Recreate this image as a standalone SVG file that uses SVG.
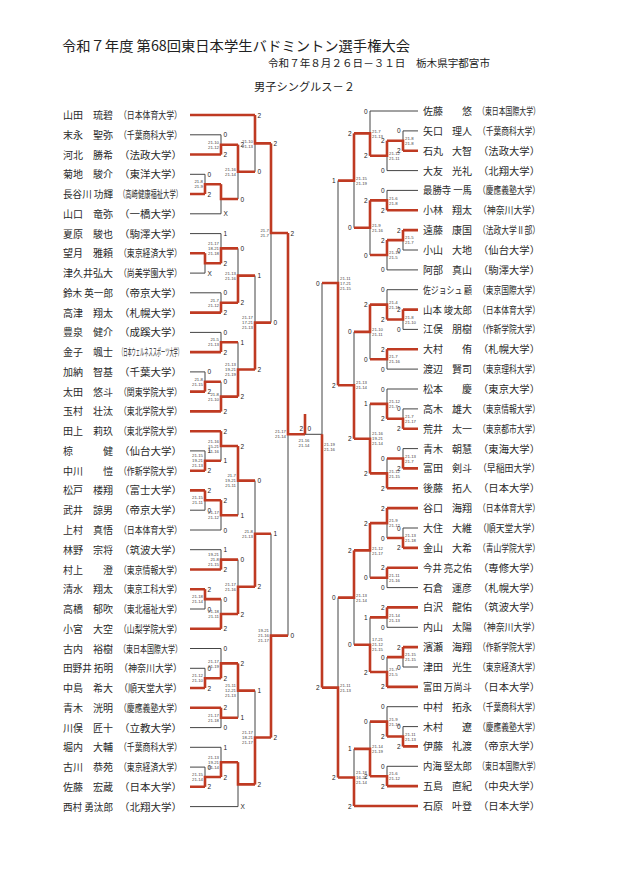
<svg xmlns="http://www.w3.org/2000/svg" width="620" height="877" viewBox="0 0 620 877">
<style>
.t{stroke:#444;stroke-width:1;fill:none}
.r{stroke:#bf3a22;stroke-width:2.6;fill:none;stroke-linejoin:miter}
.nm{font-family:"Noto Sans CJK JP",sans-serif;font-size:10px;fill:#2a2a2a}
.e{text-anchor:end}
.lb{font-family:"Liberation Sans",sans-serif;font-size:6.5px;fill:#222}
.sc{font-family:"Liberation Sans",sans-serif;font-size:4.3px;fill:#444}
.hd{font-family:"Noto Sans CJK JP",sans-serif;fill:#222}
</style>
<rect width="620" height="877" fill="#fff"/>
<g id="header">
<text class="hd" x="62" y="51" font-size="14" textLength="348" lengthAdjust="spacingAndGlyphs">令和７年度 第68回東日本学生バドミントン選手権大会</text>
<text class="hd" x="268" y="67" font-size="10" textLength="222" lengthAdjust="spacingAndGlyphs">令和７年８月２６日－３１日　栃木県宇都宮市</text>
<text class="hd" x="254" y="91" font-size="11" textLength="101" lengthAdjust="spacingAndGlyphs">男子シングルス－２</text>
</g>
<g id="connectors">
<path class="t" d="M190 134.8H221M190 174.3H205M190 213.8H221M190 233.6H221M190 273.1H205M190 292.8H221M190 332.4H221M190 371.9H205M190 450.9H205M190 510.2H205M190 530H221M190 549.7H221M190 609H205M190 648.5H221M190 668.3H205M190 727.6H221M190 747.3H221M190 767.1H205M190 806.6H238"/>
<path class="t" d="M205 174.3V194M221 134.8V154.5M221 184.2V213.8M238 144.7V199M255 115V171.8M205 253.3V273.1M221 233.6V263.2M221 292.8V312.6M238 248.4V302.7M221 332.4V352.1M205 371.9V391.6M221 381.8V411.4M238 342.3V396.6M255 275.6V369.5M271 143.4V322.6M205 450.9V470.7M221 431.2V460.8M205 490.4V510.2M221 500.3V530M238 446V515.2M221 549.7V569.5M205 589.2V609M221 599.1V628.8M238 559.6V614M255 480.6V586.8M205 668.3V688M221 648.5V678.2M221 707.8V727.6M238 663.4V717.7M205 767.1V786.8M221 747.3V777M238 762.2V806.6M255 690.6V784.4M271 533.7V737.5M288 233V635.6"/>
<path class="r" d="M190 115H255M190 154.5H221M190 194H205M190 253.3H205M190 312.6H221M190 352.1H221M190 391.6H205M190 411.4H221M190 431.2H221M190 470.7H205M190 490.4H205M190 569.5H221M190 589.2H205M190 628.8H221M190 688H205M190 707.8H221M190 786.8H205"/>
<path class="r" d="M205 194V184.2H221M221 154.5V144.7H238M221 184.2V199H238M238 144.7V171.8H255M255 115V143.4H271M205 253.3V263.2H221M221 263.2V248.4H238M221 312.6V302.7H238M238 302.7V275.6H255M221 352.1V342.3H238M205 391.6V381.8H221M221 411.4V396.6H238M238 396.6V369.5H255M255 369.5V322.6H271M271 143.4V233H288M205 470.7V460.8H221M221 431.2V446H238M205 490.4V500.3H221M221 500.3V515.2H238M238 446V480.6H255M221 569.5V559.6H238M205 589.2V599.1H221M221 628.8V614H238M238 614V586.8H255M255 586.8V533.7H271M205 688V678.2H221M221 678.2V663.4H238M221 707.8V717.7H238M238 663.4V690.6H255M205 786.8V777H221M221 777V762.2H238M238 762.2V784.4H255M255 784.4V737.5H271M271 737.5V635.6H288M288 233V434.3H305"/>
<path class="r" d="M305 434.3V414"/>
<path class="t" d="M305 434.3H322"/>
<path class="t" d="M418 111H370M418 130.9H403M418 170.6H387M418 190.4H387M418 250H403M418 269.9H387M418 289.7H387M418 329.4H403M418 369.1H387M418 389H387M418 408.9H403M418 448.6H403M418 528H403M418 587.6H387M418 627.3H387M418 667H403M418 706.7H387M418 726.6H403M418 766.3H387"/>
<path class="t" d="M403 130.9V150.7M387 140.8V170.6M370 111V155.7M387 190.4V210.3M403 230.1V250M387 240.1V269.9M370 200.4V255M354 133.4V227.7M403 309.6V329.4M387 289.7V319.5M387 349.3V369.1M370 304.6V359.2M403 408.9V428.7M387 389V418.8M403 448.6V468.4M387 458.5V488.3M370 403.9V473.4M354 331.9V438.7M338 180.6V385.3M403 528V547.9M387 508.1V538M387 567.7V587.6M370 523.1V577.7M387 607.4V627.3M403 647.1V667M387 657.1V686.9M370 617.4V672M354 550.4V644.7M403 726.6V746.4M387 706.7V736.5M387 766.3V786.1M370 721.6V776.2M354 748.9V806M338 597.6V777.5M322 283V687.6"/>
<path class="r" d="M418 150.7H403M418 210.3H387M418 230.1H403M418 309.6H403M418 349.3H387M418 428.7H403M418 468.4H403M418 488.3H387M418 508.1H387M418 547.9H403M418 567.7H387M418 607.4H387M418 647.1H403M418 686.9H387M418 746.4H403M418 786.1H387M418 806H354"/>
<path class="r" d="M403 150.7V140.8H387M387 140.8V155.7H370M370 155.7V133.4H354M387 210.3V200.4H370M403 230.1V240.1H387M387 240.1V255H370M370 200.4V227.7H354M354 133.4V180.6H338M403 309.6V319.5H387M387 319.5V304.6H370M387 349.3V359.2H370M370 304.6V331.9H354M403 428.7V418.8H387M387 418.8V403.9H370M403 468.4V458.5H387M387 488.3V473.4H370M370 473.4V438.7H354M354 438.7V385.3H338M338 385.3V283H322M403 547.9V538H387M387 508.1V523.1H370M387 567.7V577.7H370M370 523.1V550.4H354M387 607.4V617.4H370M403 647.1V657.1H387M387 686.9V672H370M370 672V644.7H354M354 550.4V597.6H338M403 746.4V736.5H387M387 736.5V721.6H370M387 786.1V776.2H370M370 776.2V748.9H354M354 806V777.5H338M338 777.5V687.6H322M322 687.6V434.3"/>
</g>
<g id="results">
<g class="lb">
<text x="207.5" y="176.8">0</text><text x="207.5" y="196.5">2</text>
<text x="223.5" y="137.3">0</text><text x="223.5" y="157">2</text>
<text x="223.5" y="216.3">X</text>
<text x="240.5" y="147.2">2</text><text x="240.5" y="201.5">0</text>
<text x="257.5" y="117.5">2</text><text x="257.5" y="174.3">0</text>
<text x="207.5" y="275.6">X</text>
<text x="223.5" y="236.1">1</text><text x="223.5" y="265.7">2</text>
<text x="223.5" y="295.3">0</text><text x="223.5" y="315.1">2</text>
<text x="240.5" y="250.9">0</text><text x="240.5" y="305.2">2</text>
<text x="223.5" y="334.9">0</text><text x="223.5" y="354.6">2</text>
<text x="207.5" y="374.4">0</text><text x="207.5" y="394.1">2</text>
<text x="223.5" y="384.3">0</text><text x="223.5" y="413.9">2</text>
<text x="240.5" y="344.8">1</text><text x="240.5" y="399.1">2</text>
<text x="257.5" y="278.1">1</text><text x="257.5" y="372">2</text>
<text x="273.5" y="145.9">2</text><text x="273.5" y="325.1">0</text>
<text x="207.5" y="453.4">1</text><text x="207.5" y="473.2">2</text>
<text x="223.5" y="433.7">2</text><text x="223.5" y="463.3">1</text>
<text x="207.5" y="492.9">2</text><text x="207.5" y="512.7">0</text>
<text x="223.5" y="502.8">2</text><text x="223.5" y="532.5">0</text>
<text x="240.5" y="448.5">2</text><text x="240.5" y="517.7">1</text>
<text x="223.5" y="552.2">1</text><text x="223.5" y="572">2</text>
<text x="207.5" y="591.7">2</text><text x="207.5" y="611.5">0</text>
<text x="223.5" y="601.6">0</text><text x="223.5" y="631.3">2</text>
<text x="240.5" y="562.1">0</text><text x="240.5" y="616.5">2</text>
<text x="257.5" y="483.1">0</text><text x="257.5" y="589.3">2</text>
<text x="207.5" y="670.8">0</text><text x="207.5" y="690.5">2</text>
<text x="223.5" y="651">0</text><text x="223.5" y="680.7">2</text>
<text x="223.5" y="710.3">2</text><text x="223.5" y="730.1">0</text>
<text x="240.5" y="665.9">2</text><text x="240.5" y="720.2">1</text>
<text x="207.5" y="769.6">0</text><text x="207.5" y="789.3">2</text>
<text x="223.5" y="749.8">1</text><text x="223.5" y="779.5">2</text>
<text x="240.5" y="809.1">X</text>
<text x="257.5" y="693.1">1</text><text x="257.5" y="786.9">2</text>
<text x="273.5" y="536.2">1</text><text x="273.5" y="740">2</text>
<text x="290.5" y="235.5">2</text><text x="290.5" y="638.1">0</text>
<text x="303" y="431" text-anchor="end">2</text><text x="307.5" y="431">0</text>
</g>
<g class="lb" text-anchor="end">
<text x="400.5" y="133.4">0</text><text x="400.5" y="153.2">2</text>
<text x="384.5" y="143.3">2</text><text x="384.5" y="173.1">0</text>
<text x="367.5" y="113.5">0</text><text x="367.5" y="158.2">2</text>
<text x="384.5" y="192.9">0</text><text x="384.5" y="212.8">2</text>
<text x="400.5" y="232.6">2</text><text x="400.5" y="252.5">0</text>
<text x="384.5" y="242.6">2</text><text x="384.5" y="272.4">0</text>
<text x="367.5" y="202.9">2</text><text x="367.5" y="257.5">0</text>
<text x="351.5" y="135.9">2</text><text x="351.5" y="230.2">0</text>
<text x="400.5" y="312.1">2</text><text x="400.5" y="331.9">0</text>
<text x="384.5" y="292.2">0</text><text x="384.5" y="322">2</text>
<text x="384.5" y="351.8">2</text><text x="384.5" y="371.6">0</text>
<text x="367.5" y="307.1">2</text><text x="367.5" y="361.7">0</text>
<text x="400.5" y="411.4">0</text><text x="400.5" y="431.2">2</text>
<text x="384.5" y="391.5">0</text><text x="384.5" y="421.3">2</text>
<text x="400.5" y="451.1">0</text><text x="400.5" y="470.9">2</text>
<text x="384.5" y="461">0</text><text x="384.5" y="490.8">2</text>
<text x="367.5" y="406.4">1</text><text x="367.5" y="475.9">2</text>
<text x="351.5" y="334.4">0</text><text x="351.5" y="441.2">2</text>
<text x="335.5" y="183.1">1</text><text x="335.5" y="387.8">2</text>
<text x="400.5" y="530.5">0</text><text x="400.5" y="550.4">2</text>
<text x="384.5" y="510.6">2</text><text x="384.5" y="540.5">0</text>
<text x="384.5" y="570.2">2</text><text x="384.5" y="590.1">0</text>
<text x="367.5" y="525.6">2</text><text x="367.5" y="580.2">0</text>
<text x="384.5" y="609.9">2</text><text x="384.5" y="629.8">0</text>
<text x="400.5" y="649.6">2</text><text x="400.5" y="669.5">0</text>
<text x="384.5" y="659.6">0</text><text x="384.5" y="689.4">2</text>
<text x="367.5" y="619.9">1</text><text x="367.5" y="674.5">2</text>
<text x="351.5" y="552.9">2</text><text x="351.5" y="647.2">0</text>
<text x="400.5" y="729.1">0</text><text x="400.5" y="748.9">2</text>
<text x="384.5" y="709.2">0</text><text x="384.5" y="739">2</text>
<text x="384.5" y="768.8">0</text><text x="384.5" y="788.6">2</text>
<text x="367.5" y="724.1">0</text><text x="367.5" y="778.7">2</text>
<text x="351.5" y="751.4">1</text><text x="351.5" y="808.5">2</text>
<text x="335.5" y="600.1">0</text><text x="335.5" y="780">2</text>
<text x="319.5" y="285.5">0</text><text x="319.5" y="690.1">2</text>
</g>
</g>
<g id="scores" class="sc">
<g text-anchor="end">
<text x="203" y="183.3">21-8<tspan x="203" dy="5">21-9</tspan></text>
<text x="219" y="143.8">21-10<tspan x="219" dy="5">21-12</tspan></text>
<text x="236" y="170.9">21-16<tspan x="236" dy="5">21-14</tspan></text>
<text x="253" y="142.5">21-10<tspan x="253" dy="5">21-13</tspan></text>
<text x="219" y="245">21-17<tspan x="219" dy="5">18-21</tspan><tspan x="219" dy="5">21-18</tspan></text>
<text x="219" y="301.8">21-7<tspan x="219" dy="5">21-12</tspan></text>
<text x="236" y="274.7">21-13<tspan x="236" dy="5">21-16</tspan></text>
<text x="219" y="341.4">21-5<tspan x="219" dy="5">21-13</tspan></text>
<text x="203" y="380.9">21-8<tspan x="203" dy="5">21-15</tspan></text>
<text x="219" y="395.7">21-8<tspan x="219" dy="5">21-10</tspan></text>
<text x="236" y="366.1">21-13<tspan x="236" dy="5">19-21</tspan><tspan x="236" dy="5">21-19</tspan></text>
<text x="253" y="319.2">21-17<tspan x="253" dy="5">17-21</tspan><tspan x="253" dy="5">21-13</tspan></text>
<text x="269" y="232.1">21-7<tspan x="269" dy="5">21-7</tspan></text>
<text x="203" y="457.4">21-15<tspan x="203" dy="5">19-21</tspan><tspan x="203" dy="5">21-13</tspan></text>
<text x="219" y="442.6">21-16<tspan x="219" dy="5">15-21</tspan><tspan x="219" dy="5">21-16</tspan></text>
<text x="203" y="499.4">21-15<tspan x="203" dy="5">21-11</tspan></text>
<text x="219" y="514.3">21-17<tspan x="219" dy="5">21-12</tspan></text>
<text x="236" y="477.2">21-7<tspan x="236" dy="5">19-21</tspan><tspan x="236" dy="5">21-11</tspan></text>
<text x="219" y="556.2">19-21<tspan x="219" dy="5">21-8</tspan><tspan x="219" dy="5">21-15</tspan></text>
<text x="203" y="598.2">21-18<tspan x="203" dy="5">21-14</tspan></text>
<text x="219" y="613.1">21-18<tspan x="219" dy="5">21-11</tspan></text>
<text x="236" y="585.9">21-17<tspan x="236" dy="5">21-16</tspan></text>
<text x="253" y="532.8">21-8<tspan x="253" dy="5">21-13</tspan></text>
<text x="203" y="677.3">21-12<tspan x="203" dy="5">21-10</tspan></text>
<text x="219" y="662.5">21-17<tspan x="219" dy="5">21-19</tspan></text>
<text x="219" y="716.8">21-17<tspan x="219" dy="5">21-18</tspan></text>
<text x="236" y="687.2">21-11<tspan x="236" dy="5">12-21</tspan><tspan x="236" dy="5">21-13</tspan></text>
<text x="203" y="776.1">21-15<tspan x="203" dy="5">21-14</tspan></text>
<text x="219" y="758.8">21-13<tspan x="219" dy="5">19-21</tspan><tspan x="219" dy="5">21-14</tspan></text>
<text x="253" y="734.1">21-17<tspan x="253" dy="5">18-21</tspan><tspan x="253" dy="5">21-17</tspan></text>
<text x="269" y="632.2">19-21<tspan x="269" dy="5">21-16</tspan><tspan x="269" dy="5">21-17</tspan></text>
<text x="286" y="433.4">21-17<tspan x="286" dy="5">21-14</tspan></text>
</g>
<text x="304" y="441.5" text-anchor="middle">21-16<tspan x="304" dy="5">21-14</tspan></text>
<text x="405" y="139.9">21-8<tspan x="405" dy="5">21-8</tspan></text>
<text x="389" y="154.8">21-12<tspan x="389" dy="5">21-11</tspan></text>
<text x="372" y="132.5">21-7<tspan x="372" dy="5">21-13</tspan></text>
<text x="389" y="199.5">21-6<tspan x="389" dy="5">21-8</tspan></text>
<text x="405" y="239.2">21-5<tspan x="405" dy="5">21-7</tspan></text>
<text x="389" y="254.1">21-15<tspan x="389" dy="5">21-5</tspan></text>
<text x="372" y="226.8">21-9<tspan x="372" dy="5">21-16</tspan></text>
<text x="356" y="179.7">21-15<tspan x="356" dy="5">21-19</tspan></text>
<text x="405" y="318.6">21-8<tspan x="405" dy="5">21-10</tspan></text>
<text x="389" y="303.7">21-4<tspan x="389" dy="5">21-11</tspan></text>
<text x="389" y="358.3">21-7<tspan x="389" dy="5">21-16</tspan></text>
<text x="372" y="331">21-10<tspan x="372" dy="5">21-11</tspan></text>
<text x="405" y="417.9">21-7<tspan x="405" dy="5">21-17</tspan></text>
<text x="389" y="403">21-12<tspan x="389" dy="5">21-7</tspan></text>
<text x="405" y="457.6">21-13<tspan x="405" dy="5">21-7</tspan></text>
<text x="389" y="472.5">21-12<tspan x="389" dy="5">21-15</tspan></text>
<text x="372" y="435.3">21-16<tspan x="372" dy="5">19-21</tspan><tspan x="372" dy="5">21-14</tspan></text>
<text x="356" y="384.4">21-13<tspan x="356" dy="5">21-14</tspan></text>
<text x="340" y="279.6">21-11<tspan x="340" dy="5">17-21</tspan><tspan x="340" dy="5">21-15</tspan></text>
<text x="324" y="446">21-19<tspan x="324" dy="5">21-16</tspan></text>
<text x="405" y="537.1">21-13<tspan x="405" dy="5">21-18</tspan></text>
<text x="389" y="522.2">21-9<tspan x="389" dy="5">21-12</tspan></text>
<text x="389" y="576.8">21-11<tspan x="389" dy="5">21-16</tspan></text>
<text x="372" y="549.5">21-12<tspan x="372" dy="5">21-17</tspan></text>
<text x="389" y="616.5">21-14<tspan x="389" dy="5">21-13</tspan></text>
<text x="405" y="656.2">21-15<tspan x="405" dy="5">21-15</tspan></text>
<text x="389" y="671.1">21-7<tspan x="389" dy="5">21-5</tspan></text>
<text x="372" y="641.3">17-21<tspan x="372" dy="5">21-12</tspan><tspan x="372" dy="5">21-15</tspan></text>
<text x="356" y="596.7">21-13<tspan x="356" dy="5">21-14</tspan></text>
<text x="405" y="735.6">21-11<tspan x="405" dy="5">21-13</tspan></text>
<text x="389" y="720.7">21-9<tspan x="389" dy="5">21-10</tspan></text>
<text x="389" y="775.3">21-6<tspan x="389" dy="5">21-12</tspan></text>
<text x="372" y="748">21-14<tspan x="372" dy="5">21-19</tspan></text>
<text x="356" y="774.1">21-18<tspan x="356" dy="5">16-21</tspan><tspan x="356" dy="5">21-14</tspan></text>
<text x="340" y="686.7">21-11<tspan x="340" dy="5">21-13</tspan></text>
</g>
<g id="left-players" class="nm">
<g id="L01"><text x="63" y="119">山田</text><text class="e" x="113" y="119">琉碧</text><text x="119" y="119" textLength="63" lengthAdjust="spacingAndGlyphs">（日本体育大学）</text></g>
<g id="L02"><text x="63" y="138.8">末永</text><text class="e" x="113" y="138.8">聖弥</text><text x="119" y="138.8" textLength="63" lengthAdjust="spacingAndGlyphs">（千葉商科大学）</text></g>
<g id="L03"><text x="63" y="158.5">河北</text><text class="e" x="113" y="158.5">勝希</text><text x="119" y="158.5" textLength="63" lengthAdjust="spacingAndGlyphs">（法政大学）</text></g>
<g id="L04"><text x="63" y="178.3">菊地</text><text class="e" x="113" y="178.3">駿介</text><text x="119" y="178.3" textLength="63" lengthAdjust="spacingAndGlyphs">（東洋大学）</text></g>
<g id="L05"><text x="63" y="198" textLength="50" lengthAdjust="spacingAndGlyphs">長谷川 功輝</text><text x="119" y="198" textLength="63" lengthAdjust="spacingAndGlyphs">（高崎健康福祉大学）</text></g>
<g id="L06"><text x="63" y="217.8">山口</text><text class="e" x="113" y="217.8">竜弥</text><text x="119" y="217.8" textLength="63" lengthAdjust="spacingAndGlyphs">（一橋大学）</text></g>
<g id="L07"><text x="63" y="237.6">夏原</text><text class="e" x="113" y="237.6">駿也</text><text x="119" y="237.6" textLength="63" lengthAdjust="spacingAndGlyphs">（駒澤大学）</text></g>
<g id="L08"><text x="63" y="257.3">望月</text><text class="e" x="113" y="257.3">雅頼</text><text x="119" y="257.3" textLength="63" lengthAdjust="spacingAndGlyphs">（東京経済大学）</text></g>
<g id="L09"><text x="63" y="277.1" textLength="50" lengthAdjust="spacingAndGlyphs">津久井弘大</text><text x="119" y="277.1" textLength="63" lengthAdjust="spacingAndGlyphs">（尚美学園大学）</text></g>
<g id="L10"><text x="63" y="296.8" textLength="50" lengthAdjust="spacingAndGlyphs">鈴木 英一郎</text><text x="119" y="296.8" textLength="63" lengthAdjust="spacingAndGlyphs">（帝京大学）</text></g>
<g id="L11"><text x="63" y="316.6">高津</text><text class="e" x="113" y="316.6">翔太</text><text x="119" y="316.6" textLength="63" lengthAdjust="spacingAndGlyphs">（札幌大学）</text></g>
<g id="L12"><text x="63" y="336.4">豊泉</text><text class="e" x="113" y="336.4">健介</text><text x="119" y="336.4" textLength="63" lengthAdjust="spacingAndGlyphs">（成蹊大学）</text></g>
<g id="L13"><text x="63" y="356.1">金子</text><text class="e" x="113" y="356.1">颯士</text><text x="119" y="356.1" textLength="63" lengthAdjust="spacingAndGlyphs">（日本ウェルネススポーツ大学）</text></g>
<g id="L14"><text x="63" y="375.9">加納</text><text class="e" x="113" y="375.9">智基</text><text x="119" y="375.9" textLength="63" lengthAdjust="spacingAndGlyphs">（千葉大学）</text></g>
<g id="L15"><text x="63" y="395.6">太田</text><text class="e" x="113" y="395.6">悠斗</text><text x="119" y="395.6" textLength="63" lengthAdjust="spacingAndGlyphs">（関東学院大学）</text></g>
<g id="L16"><text x="63" y="415.4">玉村</text><text class="e" x="113" y="415.4">壮汰</text><text x="119" y="415.4" textLength="63" lengthAdjust="spacingAndGlyphs">（東北学院大学）</text></g>
<g id="L17"><text x="63" y="435.2">田上</text><text class="e" x="113" y="435.2">莉玖</text><text x="119" y="435.2" textLength="63" lengthAdjust="spacingAndGlyphs">（東北学院大学）</text></g>
<g id="L18"><text x="63" y="454.9">椋</text><text class="e" x="113" y="454.9">健</text><text x="119" y="454.9" textLength="63" lengthAdjust="spacingAndGlyphs">（仙台大学）</text></g>
<g id="L19"><text x="63" y="474.7">中川</text><text class="e" x="113" y="474.7">愷</text><text x="119" y="474.7" textLength="63" lengthAdjust="spacingAndGlyphs">（作新学院大学）</text></g>
<g id="L20"><text x="63" y="494.4">松戸</text><text class="e" x="113" y="494.4">楼翔</text><text x="119" y="494.4" textLength="63" lengthAdjust="spacingAndGlyphs">（富士大学）</text></g>
<g id="L21"><text x="63" y="514.2">武井</text><text class="e" x="113" y="514.2">諒男</text><text x="119" y="514.2" textLength="63" lengthAdjust="spacingAndGlyphs">（帝京大学）</text></g>
<g id="L22"><text x="63" y="534">上村</text><text class="e" x="113" y="534">真悟</text><text x="119" y="534" textLength="63" lengthAdjust="spacingAndGlyphs">（日本体育大学）</text></g>
<g id="L23"><text x="63" y="553.7">林野</text><text class="e" x="113" y="553.7">宗将</text><text x="119" y="553.7" textLength="63" lengthAdjust="spacingAndGlyphs">（筑波大学）</text></g>
<g id="L24"><text x="63" y="573.5">村上</text><text class="e" x="113" y="573.5">澄</text><text x="119" y="573.5" textLength="63" lengthAdjust="spacingAndGlyphs">（東京情報大学）</text></g>
<g id="L25"><text x="63" y="593.2">清水</text><text class="e" x="113" y="593.2">翔太</text><text x="119" y="593.2" textLength="63" lengthAdjust="spacingAndGlyphs">（東京工科大学）</text></g>
<g id="L26"><text x="63" y="613">高橋</text><text class="e" x="113" y="613">郁吹</text><text x="119" y="613" textLength="63" lengthAdjust="spacingAndGlyphs">（東北福祉大学）</text></g>
<g id="L27"><text x="63" y="632.8">小宮</text><text class="e" x="113" y="632.8">大空</text><text x="119" y="632.8" textLength="63" lengthAdjust="spacingAndGlyphs">（山梨学院大学）</text></g>
<g id="L28"><text x="63" y="652.5">古内</text><text class="e" x="113" y="652.5">裕樹</text><text x="119" y="652.5" textLength="63" lengthAdjust="spacingAndGlyphs">（東日本国際大学）</text></g>
<g id="L29"><text x="63" y="672.3" textLength="50" lengthAdjust="spacingAndGlyphs">田野井 拓明</text><text x="119" y="672.3" textLength="63" lengthAdjust="spacingAndGlyphs">（神奈川大学）</text></g>
<g id="L30"><text x="63" y="692">中島</text><text class="e" x="113" y="692">希大</text><text x="119" y="692" textLength="63" lengthAdjust="spacingAndGlyphs">（順天堂大学）</text></g>
<g id="L31"><text x="63" y="711.8">青木</text><text class="e" x="113" y="711.8">洸明</text><text x="119" y="711.8" textLength="63" lengthAdjust="spacingAndGlyphs">（慶應義塾大学）</text></g>
<g id="L32"><text x="63" y="731.6">川俣</text><text class="e" x="113" y="731.6">匠十</text><text x="119" y="731.6" textLength="63" lengthAdjust="spacingAndGlyphs">（立教大学）</text></g>
<g id="L33"><text x="63" y="751.3">堀内</text><text class="e" x="113" y="751.3">大輔</text><text x="119" y="751.3" textLength="63" lengthAdjust="spacingAndGlyphs">（千葉商科大学）</text></g>
<g id="L34"><text x="63" y="771.1">古川</text><text class="e" x="113" y="771.1">恭苑</text><text x="119" y="771.1" textLength="63" lengthAdjust="spacingAndGlyphs">（東京経済大学）</text></g>
<g id="L35"><text x="63" y="790.8">佐藤</text><text class="e" x="113" y="790.8">宏蔵</text><text x="119" y="790.8" textLength="63" lengthAdjust="spacingAndGlyphs">（日本大学）</text></g>
<g id="L36"><text x="63" y="810.6" textLength="50" lengthAdjust="spacingAndGlyphs">西村 勇汰郎</text><text x="119" y="810.6" textLength="63" lengthAdjust="spacingAndGlyphs">（北翔大学）</text></g>
</g>
<g id="right-players" class="nm">
<g id="R01"><text x="423" y="115">佐藤</text><text class="e" x="472" y="115">悠</text><text x="478" y="115" textLength="62" lengthAdjust="spacingAndGlyphs">（東日本国際大学）</text></g>
<g id="R02"><text x="423" y="134.9">矢口</text><text class="e" x="472" y="134.9">理人</text><text x="478" y="134.9" textLength="62" lengthAdjust="spacingAndGlyphs">（千葉商科大学）</text></g>
<g id="R03"><text x="423" y="154.7">石丸</text><text class="e" x="472" y="154.7">大智</text><text x="478" y="154.7" textLength="62" lengthAdjust="spacingAndGlyphs">（法政大学）</text></g>
<g id="R04"><text x="423" y="174.6">大友</text><text class="e" x="472" y="174.6">光礼</text><text x="478" y="174.6" textLength="62" lengthAdjust="spacingAndGlyphs">（北翔大学）</text></g>
<g id="R05"><text x="423" y="194.4" textLength="49" lengthAdjust="spacingAndGlyphs">最勝寺 一馬</text><text x="478" y="194.4" textLength="62" lengthAdjust="spacingAndGlyphs">（慶應義塾大学）</text></g>
<g id="R06"><text x="423" y="214.3">小林</text><text class="e" x="472" y="214.3">翔太</text><text x="478" y="214.3" textLength="62" lengthAdjust="spacingAndGlyphs">（神奈川大学）</text></g>
<g id="R07"><text x="423" y="234.1">遠藤</text><text class="e" x="472" y="234.1">康国</text><text x="478" y="234.1" textLength="62" lengthAdjust="spacingAndGlyphs">（法政大学Ⅱ部）</text></g>
<g id="R08"><text x="423" y="254">小山</text><text class="e" x="472" y="254">大地</text><text x="478" y="254" textLength="62" lengthAdjust="spacingAndGlyphs">（仙台大学）</text></g>
<g id="R09"><text x="423" y="273.9">阿部</text><text class="e" x="472" y="273.9">真山</text><text x="478" y="273.9" textLength="62" lengthAdjust="spacingAndGlyphs">（駒澤大学）</text></g>
<g id="R10"><text x="423" y="293.7" textLength="49" lengthAdjust="spacingAndGlyphs">佐ジョシュ 顧</text><text x="478" y="293.7" textLength="62" lengthAdjust="spacingAndGlyphs">（東京国際大学）</text></g>
<g id="R11"><text x="423" y="313.6" textLength="49" lengthAdjust="spacingAndGlyphs">山本 竣太郎</text><text x="478" y="313.6" textLength="62" lengthAdjust="spacingAndGlyphs">（日本体育大学）</text></g>
<g id="R12"><text x="423" y="333.4">江俣</text><text class="e" x="472" y="333.4">朋樹</text><text x="478" y="333.4" textLength="62" lengthAdjust="spacingAndGlyphs">（作新学院大学）</text></g>
<g id="R13"><text x="423" y="353.3">大村</text><text class="e" x="472" y="353.3">侑</text><text x="478" y="353.3" textLength="62" lengthAdjust="spacingAndGlyphs">（札幌大学）</text></g>
<g id="R14"><text x="423" y="373.1">渡辺</text><text class="e" x="472" y="373.1">賢司</text><text x="478" y="373.1" textLength="62" lengthAdjust="spacingAndGlyphs">（東京理科大学）</text></g>
<g id="R15"><text x="423" y="393">松本</text><text class="e" x="472" y="393">慶</text><text x="478" y="393" textLength="62" lengthAdjust="spacingAndGlyphs">（東京大学）</text></g>
<g id="R16"><text x="423" y="412.9">高木</text><text class="e" x="472" y="412.9">雄大</text><text x="478" y="412.9" textLength="62" lengthAdjust="spacingAndGlyphs">（東京情報大学）</text></g>
<g id="R17"><text x="423" y="432.7">荒井</text><text class="e" x="472" y="432.7">太一</text><text x="478" y="432.7" textLength="62" lengthAdjust="spacingAndGlyphs">（東京都市大学）</text></g>
<g id="R18"><text x="423" y="452.6">青木</text><text class="e" x="472" y="452.6">朝慧</text><text x="478" y="452.6" textLength="62" lengthAdjust="spacingAndGlyphs">（東海大学）</text></g>
<g id="R19"><text x="423" y="472.4">富田</text><text class="e" x="472" y="472.4">剣斗</text><text x="478" y="472.4" textLength="62" lengthAdjust="spacingAndGlyphs">（早稲田大学）</text></g>
<g id="R20"><text x="423" y="492.3">後藤</text><text class="e" x="472" y="492.3">拓人</text><text x="478" y="492.3" textLength="62" lengthAdjust="spacingAndGlyphs">（日本大学）</text></g>
<g id="R21"><text x="423" y="512.1">谷口</text><text class="e" x="472" y="512.1">海翔</text><text x="478" y="512.1" textLength="62" lengthAdjust="spacingAndGlyphs">（日本体育大学）</text></g>
<g id="R22"><text x="423" y="532">大住</text><text class="e" x="472" y="532">大維</text><text x="478" y="532" textLength="62" lengthAdjust="spacingAndGlyphs">（順天堂大学）</text></g>
<g id="R23"><text x="423" y="551.9">金山</text><text class="e" x="472" y="551.9">大希</text><text x="478" y="551.9" textLength="62" lengthAdjust="spacingAndGlyphs">（青山学院大学）</text></g>
<g id="R24"><text x="423" y="571.7" textLength="49" lengthAdjust="spacingAndGlyphs">今井 亮之佑</text><text x="478" y="571.7" textLength="62" lengthAdjust="spacingAndGlyphs">（専修大学）</text></g>
<g id="R25"><text x="423" y="591.6">石倉</text><text class="e" x="472" y="591.6">運彦</text><text x="478" y="591.6" textLength="62" lengthAdjust="spacingAndGlyphs">（札幌大学）</text></g>
<g id="R26"><text x="423" y="611.4">白沢</text><text class="e" x="472" y="611.4">龍佑</text><text x="478" y="611.4" textLength="62" lengthAdjust="spacingAndGlyphs">（筑波大学）</text></g>
<g id="R27"><text x="423" y="631.3">内山</text><text class="e" x="472" y="631.3">太陽</text><text x="478" y="631.3" textLength="62" lengthAdjust="spacingAndGlyphs">（神奈川大学）</text></g>
<g id="R28"><text x="423" y="651.1">濱瀬</text><text class="e" x="472" y="651.1">海翔</text><text x="478" y="651.1" textLength="62" lengthAdjust="spacingAndGlyphs">（作新学院大学）</text></g>
<g id="R29"><text x="423" y="671">津田</text><text class="e" x="472" y="671">光生</text><text x="478" y="671" textLength="62" lengthAdjust="spacingAndGlyphs">（東京経済大学）</text></g>
<g id="R30"><text x="423" y="690.9" textLength="49" lengthAdjust="spacingAndGlyphs">富田 万尚斗</text><text x="478" y="690.9" textLength="62" lengthAdjust="spacingAndGlyphs">（日本大学）</text></g>
<g id="R31"><text x="423" y="710.7">中村</text><text class="e" x="472" y="710.7">拓永</text><text x="478" y="710.7" textLength="62" lengthAdjust="spacingAndGlyphs">（千葉商科大学）</text></g>
<g id="R32"><text x="423" y="730.6">木村</text><text class="e" x="472" y="730.6">遼</text><text x="478" y="730.6" textLength="62" lengthAdjust="spacingAndGlyphs">（慶應義塾大学）</text></g>
<g id="R33"><text x="423" y="750.4">伊藤</text><text class="e" x="472" y="750.4">礼渡</text><text x="478" y="750.4" textLength="62" lengthAdjust="spacingAndGlyphs">（帝京大学）</text></g>
<g id="R34"><text x="423" y="770.3" textLength="49" lengthAdjust="spacingAndGlyphs">内海 堅太郎</text><text x="478" y="770.3" textLength="62" lengthAdjust="spacingAndGlyphs">（東日本国際大学）</text></g>
<g id="R35"><text x="423" y="790.1">五島</text><text class="e" x="472" y="790.1">直紀</text><text x="478" y="790.1" textLength="62" lengthAdjust="spacingAndGlyphs">（中央大学）</text></g>
<g id="R36"><text x="423" y="810">石原</text><text class="e" x="472" y="810">叶登</text><text x="478" y="810" textLength="62" lengthAdjust="spacingAndGlyphs">（日本大学）</text></g>
</g>
</svg>
